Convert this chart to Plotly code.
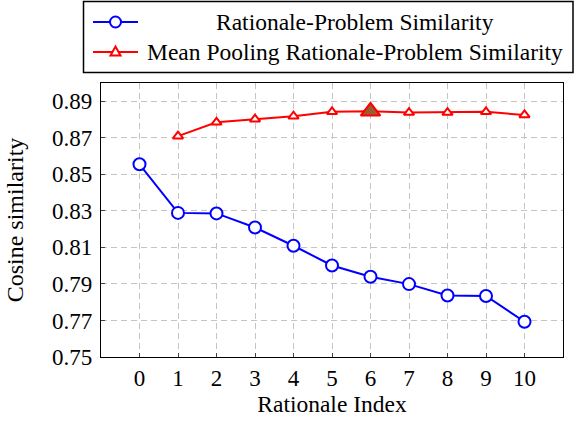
import plotly.graph_objects as go

indices = list(range(11))
rp_similarity = [0.8555, 0.8289, 0.8286, 0.8209, 0.8109, 0.8001, 0.7939, 0.7899, 0.7837, 0.7834, 0.7693]
mp_indices = list(range(1, 11))
mp_similarity = [0.8709, 0.8785, 0.8802, 0.8818, 0.8842, 0.8845, 0.8838, 0.8838, 0.8842, 0.8825]
highlight_index = 6
y_ticks = [0.75, 0.77, 0.79, 0.81, 0.83, 0.85, 0.87, 0.89]
y_tick_labels = ["0.75", "0.77", "0.79", "0.81", "0.83", "0.85", "0.87", "0.89"]
series_names = ["Rationale-Problem Similarity", "Mean Pooling Rationale-Problem Similarity"]

W, H = 576, 423
ML, MR, MT, MB = 101, 13, 83, 66
PW, PH = W - ML - MR, H - MT - MB

def px(x):
    return (x - ML) / PW

def py(y):
    return (H - MB - y) / PH

font = "Liberation Serif"
BLUE = "#0000ff"
RED = "#ff0000"

fig = go.Figure()
fig.add_trace(go.Scatter(
    x=indices, y=rp_similarity, mode="lines+markers",
    name=series_names[0], showlegend=False,
    line=dict(color=BLUE, width=2),
    marker=dict(symbol="circle", size=12, color="white", line=dict(color=BLUE, width=2)),
))
fig.add_trace(go.Scatter(
    x=mp_indices, y=mp_similarity, mode="lines+markers",
    name=series_names[1], showlegend=False,
    line=dict(color=RED, width=2),
    marker=dict(symbol="triangle-up", size=9, color="white", line=dict(color=RED, width=2)),
))
hi = mp_indices.index(highlight_index)
fig.add_trace(go.Scatter(
    x=[mp_indices[hi]], y=[mp_similarity[hi]], mode="markers", showlegend=False,
    marker=dict(symbol="triangle-up", size=17, color="#9c5a2e", line=dict(color=RED, width=2)),
))

axis_common = dict(
    showline=True, linecolor="black", linewidth=1.3, mirror=True,
    showgrid=True, gridcolor="#c4c4c4", griddash="6px,4px", gridwidth=1,
    ticks="inside", ticklen=4, tickcolor="#444444", zeroline=False,
    tickfont=dict(family=font, size=23, color="black"),
)
fig.update_xaxes(range=[-1, 11], tickvals=indices, ticktext=[str(i) for i in indices],
                 title=dict(text="Rationale Index", font=dict(family=font, size=23.5, color="black"), standoff=2),
                 ticklabelstandoff=0, **axis_common)
fig.update_yaxes(range=[0.75, 0.90], tickvals=y_ticks, ticktext=y_tick_labels,
                 title=dict(text="Cosine similarity", font=dict(family=font, size=24, color="black"), standoff=21),
                 ticklabelstandoff=3, **axis_common)

# legend (box, symbols, text)
shapes = [dict(type="rect", xref="paper", yref="paper",
               x0=px(83.5), x1=px(573), y0=py(1.5), y1=py(72.5),
               line=dict(color="black", width=1.5), fillcolor="white", layer="above")]
annotations = []
rows_y = [22, 52]
for i, (name, color) in enumerate(zip(series_names, [BLUE, RED])):
    yy = py(rows_y[i])
    shapes.append(dict(type="line", xref="paper", yref="paper",
                       x0=px(93), x1=px(138), y0=yy, y1=yy,
                       line=dict(color=color, width=2), layer="above"))
    if i == 0:
        shapes.append(dict(type="circle", xref="paper", yref="paper",
                           xsizemode="pixel", ysizemode="pixel",
                           xanchor=px(115.5), yanchor=yy,
                           x0=-5.5, x1=5.5, y0=-5.5, y1=5.5,
                           line=dict(color=color, width=2), fillcolor="white", layer="above"))
    else:
        shapes.append(dict(type="path", xref="paper", yref="paper",
                           xsizemode="pixel", ysizemode="pixel",
                           xanchor=px(115.5), yanchor=yy,
                           path="M -5,-3.5 L 5,-3.5 L 0,5.5 Z",
                           line=dict(color=color, width=2), fillcolor="white", layer="above"))
    annotations.append(dict(text=name, xref="paper", yref="paper",
                            x=px(355), y=yy, xanchor="center", yanchor="middle",
                            showarrow=False, font=dict(family=font, size=23.5, color="black")))

fig.update_layout(
    width=W, height=H,
    margin=dict(l=ML, r=MR, t=MT, b=MB, autoexpand=False),
    plot_bgcolor="white", paper_bgcolor="white",
    font=dict(family=font, size=23, color="black"),
    showlegend=False,
    shapes=shapes, annotations=annotations,
)
fig.write_html("out.html", config={"displayModeBar": False},
               post_script="document.body.style.margin='0';document.body.style.overflow='hidden';")
